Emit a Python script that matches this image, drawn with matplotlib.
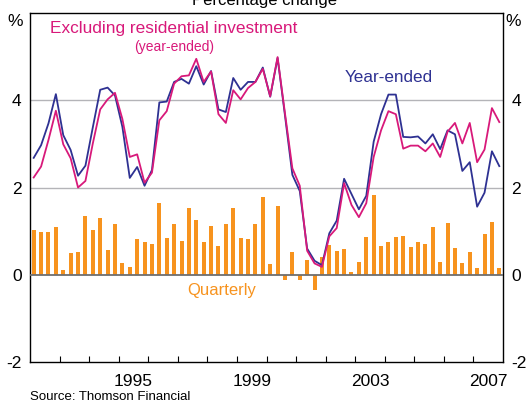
import numpy as np
import matplotlib
matplotlib.use("Agg")
import matplotlib.pyplot as plt
from matplotlib.ticker import FixedLocator

plt.rcParams['font.family'] = ['Liberation Sans', 'DejaVu Sans']

# quarterly observations, 1992Q1 .. 2007Q4
quarters = np.arange(1992, 2008, 0.25) + 0.125

year_ended = [2.68, 2.97, 3.47, 4.14, 3.20, 2.86, 2.27, 2.50, 3.38, 4.24,
              4.29, 4.11, 3.39, 2.22, 2.47, 2.04, 2.40, 3.95, 3.97, 4.42,
              4.49, 4.38, 4.78, 4.36, 4.67, 3.79, 3.73, 4.51, 4.24, 4.42,
              4.42, 4.75, 4.08, 4.97, 3.65, 2.29, 1.92, 0.60, 0.32, 0.22,
              0.95, 1.24, 2.20, 1.85, 1.50, 1.81, 3.05, 3.68, 4.13, 4.13,
              3.16, 3.15, 3.17, 3.01, 3.22, 2.88, 3.31, 3.22, 2.38, 2.58,
              1.56, 1.88, 2.83, 2.49]

excl_resi = [2.23, 2.48, 3.09, 3.76, 2.99, 2.67, 2.00, 2.15, 3.01, 3.79,
             4.02, 4.17, 3.57, 2.70, 2.76, 2.11, 2.34, 3.54, 3.75, 4.38,
             4.55, 4.57, 4.95, 4.42, 4.66, 3.68, 3.48, 4.23, 4.02, 4.28,
             4.42, 4.72, 4.09, 4.99, 3.70, 2.44, 2.04, 0.55, 0.26, 0.18,
             0.88, 1.07, 2.10, 1.60, 1.32, 1.64, 2.70, 3.31, 3.75, 3.68,
             2.89, 2.96, 2.96, 2.83, 3.01, 2.70, 3.28, 3.48, 3.01, 3.48,
             2.58, 2.87, 3.82, 3.50]

quarterly = [1.03, 0.97, 0.98, 1.10, 0.11, 0.50, 0.53, 1.35, 1.03, 1.30,
             0.57, 1.17, 0.27, 0.18, 0.82, 0.74, 0.71, 1.65, 0.85, 1.17,
             0.78, 1.53, 1.26, 0.74, 1.12, 0.66, 1.17, 1.53, 0.85, 0.82,
             1.17, 1.79, 0.25, 1.58, -0.12, 0.53, -0.12, 0.33, -0.35, 0.41,
             0.69, 0.55, 0.59, 0.07, 0.30, 0.87, 1.83, 0.66, 0.74, 0.87,
             0.89, 0.64, 0.75, 0.71, 1.10, 0.30, 1.19, 0.62, 0.27, 0.53,
             0.16, 0.94, 1.21, 0.16]

year_labels = ['1995', '1999', '2003', '2007']
y_ticks = [-2, 0, 2, 4]

BLUE = '#2e3192'
PINK = '#d8197a'
ORANGE = '#f7931e'

W, H = 526, 404


def px(x, y):
    # pixel position (from top-left) -> figure fraction
    return x / W, 1 - y / H


fig = plt.figure(figsize=(5.26, 4.04), dpi=100)
ax = fig.add_axes([30 / W, 1 - 362 / H, 473 / W, 349 / H])

# gridlines
for g in [2, 4]:
    ax.axhline(g, color='#b4b4b8', lw=1.0, zorder=0)

ax.bar(quarters, quarterly, width=0.135, color=ORANGE, zorder=2)
ax.axhline(0, color='#6e6e6e', lw=1.3, zorder=3)

ax.plot(quarters, year_ended, color=BLUE, lw=1.3, zorder=4)
ax.plot(quarters, excl_resi, color=PINK, lw=1.3, zorder=5)

ax.set_xlim(1992, 2008)
ax.set_ylim(-2, 6)

# x axis: labels at mid-year, small inward ticks on every year
ax.xaxis.set_major_locator(FixedLocator([int(y) + 0.5 for y in year_labels]))
ax.set_xticklabels(year_labels)
ax.xaxis.set_minor_locator(FixedLocator(np.arange(1993, 2008)))
ax.tick_params(axis='x', which='major', length=0, pad=9, labelsize=12.5)
ax.tick_params(axis='x', which='minor', direction='in', length=4, width=0.8)

ax.set_yticks(y_ticks)
ax.set_yticklabels([str(v) for v in y_ticks])
ax.tick_params(axis='y', which='both', length=0, labelsize=12.5,
               left=True, right=True, labelleft=True, labelright=True)
ax.tick_params(axis='y', pad=6)

for s in ax.spines.values():
    s.set_linewidth(1.0)
    s.set_color('black')

fig.text(*px(265, 0), 'Percentage change', ha='center', va='center', fontsize=12)
fig.text(*px(15, 22), '%', ha='center', va='center', fontsize=12.5)
fig.text(*px(513, 22), '%', ha='center', va='center', fontsize=12.5)

fig.text(*px(50, 29), 'Excluding residential investment', color=PINK,
         fontsize=12.4, ha='left', va='center')
fig.text(*px(174, 47), '(year-ended)', color=PINK, fontsize=10, ha='center', va='center')
fig.text(*px(389, 77), 'Year-ended', color=BLUE, fontsize=12.3, ha='center', va='center')
fig.text(*px(222, 291), 'Quarterly', color=ORANGE, fontsize=12, ha='center', va='center')
fig.text(*px(30, 397), 'Source: Thomson Financial', fontsize=9.5, ha='left', va='center')

fig.savefig('out.png', dpi=100)
